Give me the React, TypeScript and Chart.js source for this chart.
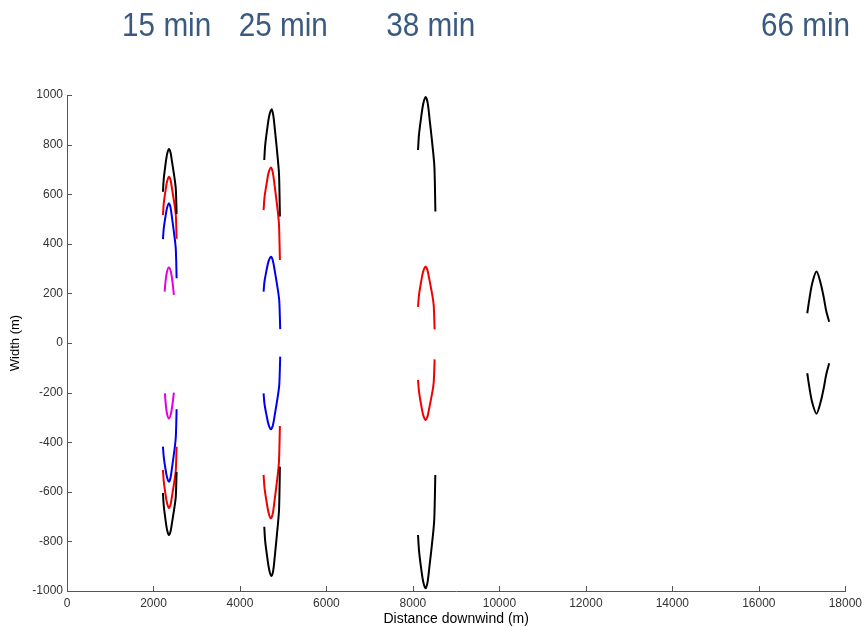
import React, { useEffect, useRef } from 'react';
import { Chart, registerables } from 'chart.js';

Chart.register(...registerables);

// ---- labels ----
const timeLabels = ['15 min', '25 min', '38 min', '66 min'];
const timeLabelX = [2305, 5001, 8412, 17078]; // distance (m) above which each time label sits
const xTitle = 'Distance downwind (m)';
const yTitle = 'Width (m)';

// ---- 15 min ----
const m15BlackTop = [[2219, 610], [2237, 661], [2273, 713], [2313, 760], [2357, 782], [2393, 769], [2428, 732], [2494, 656], [2517, 620], [2535, 520]];
const m15BlackBottom = [[2219, -605], [2237, -655], [2273, -706], [2313, -752], [2357, -774], [2393, -761], [2428, -726], [2494, -652], [2517, -617], [2535, -520]];
const m15RedTop = [[2219, 516], [2237, 561], [2273, 608], [2313, 650], [2357, 670], [2393, 658], [2428, 623], [2494, 550], [2517, 515], [2535, 420]];
const m15RedBottom = [[2219, -512], [2237, -557], [2273, -604], [2313, -645], [2357, -665], [2393, -653], [2428, -618], [2494, -546], [2517, -512], [2535, -418]];
const m15BlueTop = [[2219, 419], [2237, 461], [2273, 505], [2313, 544], [2357, 563], [2393, 548], [2428, 506], [2494, 418], [2517, 376], [2535, 261]];
const m15BlueBottom = [[2219, -418], [2237, -458], [2273, -503], [2313, -541], [2357, -559], [2393, -544], [2428, -504], [2494, -419], [2517, -378], [2535, -267]];
const m15MagentaTop = [[2258, 207], [2280, 250], [2310, 285], [2357, 304], [2405, 285], [2440, 245], [2472, 194]];
const m15MagentaBottom = [[2265, -203], [2285, -248], [2312, -284], [2357, -304], [2405, -284], [2440, -246], [2472, -200]];

// ---- 25 min ----
const m25BlackTop = [[4562, 738], [4584, 798], [4628, 860], [4676, 915], [4730, 942], [4769, 920], [4808, 860], [4879, 735], [4905, 674], [4924, 510]];
const m25BlackBottom = [[4562, -741], [4584, -800], [4628, -860], [4676, -914], [4730, -940], [4769, -918], [4808, -856], [4879, -728], [4905, -667], [4924, -499]];
const m25RedTop = [[4546, 536], [4568, 587], [4613, 639], [4662, 686], [4717, 708], [4758, 689], [4800, 637], [4876, 529], [4903, 477], [4924, 335]];
const m25RedBottom = [[4546, -532], [4568, -584], [4613, -637], [4662, -684], [4717, -707], [4758, -688], [4800, -636], [4876, -528], [4903, -476], [4924, -335]];
const m25BlueTop = [[4546, 207], [4568, 249], [4613, 292], [4662, 330], [4717, 348], [4760, 333], [4803, 293], [4882, 208], [4910, 167], [4931, 56]];
const m25BlueBottom = [[4546, -203], [4568, -246], [4613, -290], [4662, -329], [4717, -348], [4760, -333], [4803, -292], [4882, -207], [4910, -166], [4931, -55]];

// ---- 38 min ----
const m38BlackTop = [[8118, 778], [8141, 841], [8187, 906], [8238, 964], [8295, 992], [8340, 969], [8385, 904], [8468, 770], [8498, 706], [8520, 530]];
const m38BlackBottom = [[8118, -774], [8141, -837], [8186, -903], [8236, -961], [8292, -989], [8337, -966], [8382, -902], [8466, -770], [8495, -706], [8518, -532]];
const m38RedTop = [[8118, 146], [8141, 194], [8186, 243], [8236, 287], [8292, 308], [8334, 295], [8376, 260], [8454, 187], [8481, 151], [8502, 55]];
const m38RedBottom = [[8118, -149], [8141, -196], [8186, -245], [8236, -289], [8292, -310], [8334, -298], [8376, -264], [8454, -193], [8481, -159], [8502, -66]];

// ---- 66 min ----
const m66BlackTop = [[17120, 120], [17166, 174], [17235, 241], [17334, 288], [17426, 243], [17500, 185], [17560, 128], [17627, 86]];
const m66BlackBottom = [[17120, -122], [17166, -176], [17235, -240], [17334, -285], [17426, -240], [17500, -183], [17560, -126], [17627, -82]];

const BLACK = '#000000';
const RED = '#f00000';
const BLUE = '#0000f0';
const MAGENTA = '#e000e0';

const curves: [number[][], string][] = [
  [m15BlackTop, BLACK], [m15BlackBottom, BLACK],
  [m25BlackTop, BLACK], [m25BlackBottom, BLACK],
  [m38BlackTop, BLACK], [m38BlackBottom, BLACK],
  [m66BlackTop, BLACK], [m66BlackBottom, BLACK],
  [m15RedTop, RED], [m15RedBottom, RED],
  [m25RedTop, RED], [m25RedBottom, RED],
  [m38RedTop, RED], [m38RedBottom, RED],
  [m15BlueTop, BLUE], [m15BlueBottom, BLUE],
  [m25BlueTop, BLUE], [m25BlueBottom, BLUE],
  [m15MagentaTop, MAGENTA], [m15MagentaBottom, MAGENTA],
];

const FONT = 'Liberation Sans, Arial, Helvetica, sans-serif';

const inwardTicks = {
  id: 'inwardTicks',
  afterDatasetsDraw(chart: any) {
    const { ctx, chartArea, scales } = chart;
    ctx.save();
    ctx.strokeStyle = '#555';
    ctx.lineWidth = 1;
    scales.x.ticks.forEach((t: any) => {
      const px = Math.round(scales.x.getPixelForValue(t.value)) + 0.5;
      ctx.beginPath();
      ctx.moveTo(px, chartArea.bottom);
      ctx.lineTo(px, chartArea.bottom - 5);
      ctx.stroke();
    });
    scales.y.ticks.forEach((t: any) => {
      const py = Math.round(scales.y.getPixelForValue(t.value)) + 0.5;
      ctx.beginPath();
      ctx.moveTo(chartArea.left, py);
      ctx.lineTo(chartArea.left + 5, py);
      ctx.stroke();
    });
    ctx.restore();
  },
};

const timeTitles = {
  id: 'timeTitles',
  afterDraw(chart: any) {
    const { ctx, scales } = chart;
    ctx.save();
    ctx.fillStyle = '#3b5a82';
    ctx.font = `33px ${FONT}`;
    ctx.textAlign = 'center';
    ctx.textBaseline = 'middle';
    timeLabels.forEach((label, i) => {
      const px = scales.x.getPixelForValue(timeLabelX[i]);
      ctx.save();
      ctx.translate(px, 27);
      ctx.scale(0.9, 1);
      ctx.fillText(label, 0, 0);
      ctx.restore();
    });
    ctx.restore();
  },
};

export default function App() {
  const canvasRef = useRef<HTMLCanvasElement | null>(null);

  useEffect(() => {
    if (!canvasRef.current) return;
    const chart = new Chart(canvasRef.current, {
      type: 'scatter',
      data: {
        datasets: curves.map(([pts, color]) => ({
          data: pts.map(([x, y]) => ({ x, y })),
          showLine: true,
          borderColor: color,
          backgroundColor: color,
          borderWidth: 2,
          pointRadius: 0,
          tension: 0.3,
          fill: false,
        })),
      },
      options: {
        responsive: false,
        animation: false,
        layout: { padding: { top: 95, right: 19, left: 0, bottom: 0 } },
        plugins: {
          legend: { display: false },
          tooltip: { enabled: false },
          title: { display: false },
        },
        scales: {
          x: {
            type: 'linear',
            min: 0,
            max: 18000,
            afterFit: (s: any) => { s.height = 35; },
            grid: { drawOnChartArea: false, drawTicks: false },
            border: { display: true, color: '#555', width: 1 },
            ticks: {
              stepSize: 2000,
              autoSkip: false,
              maxRotation: 0,
              padding: 5,
              color: '#333',
              font: { family: FONT, size: 12 },
              callback: (v: any) => String(v),
            },
            title: {
              display: true,
              text: xTitle,
              color: '#000',
              font: { family: FONT, size: 14 },
              padding: { top: 0, bottom: -2 },
            },
          },
          y: {
            type: 'linear',
            min: -1000,
            max: 1000,
            afterFit: (s: any) => { s.width = 67; },
            grid: { drawOnChartArea: false, drawTicks: false },
            border: { display: true, color: '#555', width: 1 },
            ticks: {
              stepSize: 200,
              autoSkip: false,
              padding: 4,
              color: '#333',
              font: { family: FONT, size: 12 },
              callback: (v: any) => String(v),
            },
            title: {
              display: true,
              text: yTitle,
              color: '#000',
              font: { family: FONT, size: 13 },
              padding: { top: 8, bottom: 0 },
            },
          },
        },
      },
      plugins: [inwardTicks, timeTitles],
    });
    return () => chart.destroy();
  }, []);

  return (
    <div style={{ position: 'fixed', left: 0, top: 0, width: 867, height: 626, background: '#fff' }}>
      <canvas ref={canvasRef} width={867} height={626} style={{ display: 'block' }} />
    </div>
  );
}
